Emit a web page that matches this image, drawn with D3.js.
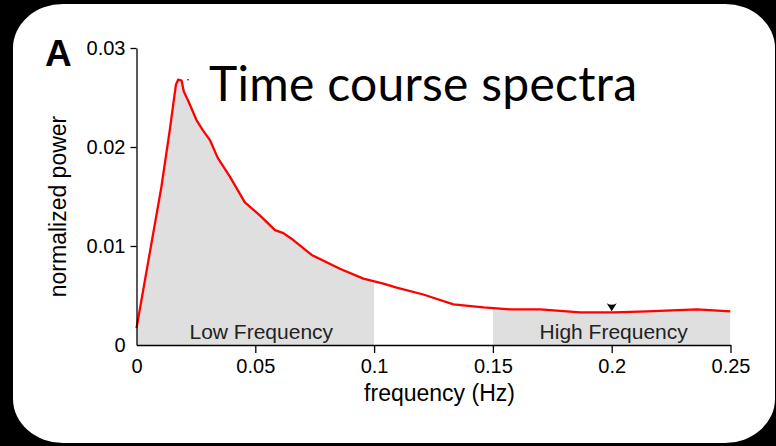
<!DOCTYPE html>
<html>
<head>
<meta charset="utf-8">
<script src="https://cdn.jsdelivr.net/npm/d3@7"></script>
<style>
body { margin: 0; background: #000; }
svg { display: block; }
</style>
</head>
<body>
<script>
// spectrum
var freq  = [0, 0.0105, 0.0140, 0.0166, 0.0175, 0.0190, 0.0199, 0.0217, 0.0253, 0.0279,
             0.0309, 0.0342, 0.0393, 0.0456, 0.0519, 0.0583, 0.0618, 0.0660, 0.0737, 0.0856,
             0.0955, 0.1039, 0.1095, 0.1207, 0.1334, 0.1460, 0.1572, 0.1699, 0.1867, 0.2008,
             0.2148, 0.2359, 0.2499];
var power = [0.0017, 0.0160, 0.0217, 0.0263, 0.0268, 0.0267, 0.0256, 0.0247, 0.0227, 0.0217,
             0.0207, 0.0189, 0.0170, 0.0144, 0.0131, 0.0116, 0.0113, 0.0106, 0.0091, 0.0077,
             0.0067, 0.0062, 0.0058, 0.0051, 0.0041, 0.0038, 0.0036, 0.0036, 0.0033, 0.0033,
             0.0034, 0.0036, 0.0034];

var xTicks = [0, 0.05, 0.1, 0.15, 0.2, 0.25];
var xTickLabels = ["0", "0.05", "0.1", "0.15", "0.2", "0.25"];
var yTicks = [0, 0.01, 0.02, 0.03];
var yTickLabels = ["0", "0.01", "0.02", "0.03"];

var bandNames = ["Low Frequency", "High Frequency"];
var bandStart = [0, 0.15];
var bandEnd   = [0.1, 0.25];

var markerFreq = [0.2];
var markerPower = [0.0033];
var dotFreq = [0.0217];
var dotPower = [0.0268];

var W = 776, H = 446;

var svg = d3.select("body").append("svg")
        .attr("width", W)
        .attr("height", H);

// slide background
svg.append("rect")
        .attr("x", 13).attr("y", 4)
        .attr("width", 762).attr("height", 439)
        .attr("rx", 50).attr("ry", 44)
        .attr("fill", "#fff");

var x = d3.scaleLinear().domain([0, 0.25]).range([136.5, 730.5]);
var y = d3.scaleLinear().domain([0, 0.03]).range([345, 48]);

var pts = freq.map(function(f, i){ return [f, power[i]]; });

// shaded bands under the curve
var defs = svg.append("defs");
bandNames.forEach(function(name, i){
    defs.append("clipPath").attr("id", "band" + i)
        .append("rect")
            .attr("x", x(bandStart[i]))
            .attr("y", 0)
            .attr("width", x(bandEnd[i]) - x(bandStart[i]))
            .attr("height", y(0));
});

var area = d3.area()
        .x(function(d){ return x(d[0]); })
        .y0(y(0))
        .y1(function(d){ return y(d[1]); });

bandNames.forEach(function(name, i){
    svg.append("path")
        .datum(pts)
        .attr("clip-path", "url(#band" + i + ")")
        .attr("fill", "#dfdfdf")
        .attr("d", area);
});

svg.selectAll("text.band")
    .data(bandNames)
    .enter().append("text")
        .attr("class", "band")
        .attr("x", function(d, i){ return (x(bandStart[i]) + x(bandEnd[i])) / 2 + (i === 0 ? 6 : 2); })
        .attr("y", 339)
        .attr("text-anchor", "middle")
        .attr("font-family", "Liberation Sans, Arial, sans-serif")
        .attr("font-size", 21)
        .attr("fill", "#222")
        .text(function(d){ return d; });

// spectrum line
var line = d3.line()
        .x(function(d){ return x(d[0]); })
        .y(function(d){ return y(d[1]); });

svg.append("path")
        .datum(pts)
        .attr("fill", "none")
        .attr("stroke", "#ff0000")
        .attr("stroke-width", 2.3)
        .attr("stroke-linejoin", "round")
        .attr("d", line);

// axes
var xAxis = d3.axisBottom(x)
        .tickValues(xTicks)
        .tickSize(8)
        .tickSizeOuter(0)
        .tickPadding(6)
        .tickFormat(function(d, i){ return xTickLabels[i]; });

var yAxis = d3.axisLeft(y)
        .tickValues(yTicks)
        .tickSize(6)
        .tickSizeOuter(0)
        .tickPadding(5)
        .tickFormat(function(d, i){ return yTickLabels[i]; });

var gx = svg.append("g")
        .attr("transform", "translate(0," + y(0) + ")")
        .call(xAxis);
var gy = svg.append("g")
        .attr("transform", "translate(" + x(0) + ",0)")
        .call(yAxis);

[gx, gy].forEach(function(g){
    g.selectAll("text")
        .attr("font-family", "Liberation Sans, Arial, sans-serif")
        .attr("font-size", 20)
        .attr("fill", "#000");
    g.selectAll("path, line").attr("stroke", "#000").attr("stroke-width", 1.3);
    g.selectAll(".tick").filter(function(d){ return d === 0; }).select("line").remove();
});

svg.append("text")
        .attr("x", (x(0) + x(0.25)) / 2 + 6)
        .attr("y", 401)
        .attr("text-anchor", "middle")
        .attr("font-family", "Liberation Sans, Arial, sans-serif")
        .attr("font-size", 23)
        .text("frequency (Hz)");

svg.append("text")
        .attr("transform", "translate(66," + ((y(0) + y(0.03)) / 2 + 10) + ") rotate(-90)")
        .attr("text-anchor", "middle")
        .attr("font-family", "Liberation Sans, Arial, sans-serif")
        .attr("font-size", 23)
        .text("normalized power");

// marker at 0.2 Hz
svg.selectAll("path.marker")
    .data(markerFreq)
    .enter().append("path")
        .attr("class", "marker")
        .attr("transform", function(d, i){ return "translate(" + x(d) + "," + (y(markerPower[i]) - 1) + ")"; })
        .attr("d", "M-5,-8 Q0,-5 5,-8 L0,0 Z")
        .attr("fill", "#000");

svg.selectAll("circle.dot")
    .data(dotFreq)
    .enter().append("circle")
        .attr("class", "dot")
        .attr("cx", function(d){ return x(d); })
        .attr("cy", function(d, i){ return y(dotPower[i]); })
        .attr("r", 0.8)
        .attr("fill", "#000");

// panel letter and title
svg.append("text")
        .attr("x", 45).attr("y", 66)
        .attr("font-family", "Liberation Sans, Arial, sans-serif")
        .attr("font-weight", "bold")
        .attr("font-size", 37)
        .text("A");

svg.append("text")
        .attr("x", 209).attr("y", 101)
        .attr("font-family", "Lato, sans-serif")
        .attr("font-size", 48)
        .attr("textLength", 428)
        .attr("lengthAdjust", "spacing")
        .text("Time course spectra");
</script>
</body>
</html>
